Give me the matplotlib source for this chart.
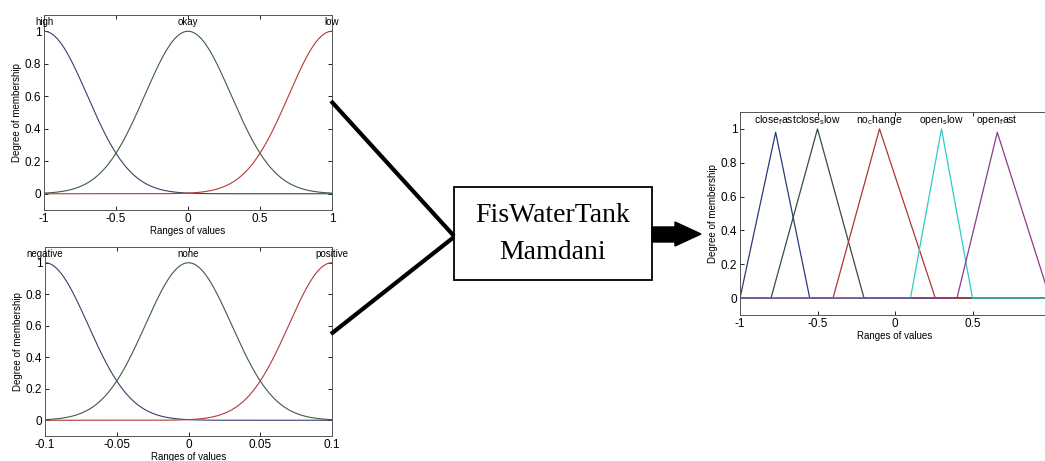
import numpy as np
import matplotlib
matplotlib.use("Agg")
import matplotlib.pyplot as plt
from matplotlib.patches import Rectangle, Polygon

plt.rcParams['font.family'] = ['Liberation Sans', 'DejaVu Sans']

# Входы: гауссовы функции принадлежности (центр, сигма)
level_names = ['high', 'okay', 'low']
level_centers = [-1.0, 0.0, 1.0]
level_sigma = 0.30
level_range = (-1.0, 1.0)
level_ticks = [-1, -0.5, 0, 0.5, 1]
level_ticklabels = ['-1', '-0.5', '0', '0.5', '1']

rate_names = ['negative', 'none', 'positive']
rate_centers = [-0.1, 0.0, 0.1]
rate_sigma = 0.03
rate_range = (-0.1, 0.1)
rate_ticks = [-0.1, -0.05, 0, 0.05, 0.1]
rate_ticklabels = ['-0.1', '-0.05', '0', '0.05', '0.1']

gauss_colors = ['#39406a', '#3d5c42', '#b23a3a']

# Выход: треугольные функции (a, b, c, высота)
valve_names = [r'close$_{\rm f}$ast', r'close$_{\rm s}$low', r'no$_{\rm c}$hange',
               r'open$_{\rm s}$low', r'open$_{\rm f}$ast']
valve_a = [-1.0, -0.80, -0.40, 0.10, 0.40]
valve_b = [-0.77, -0.50, -0.10, 0.30, 0.66]
valve_c = [-0.55, -0.20, 0.26, 0.50, 1.00]
valve_peak = [0.98, 1.0, 1.0, 1.0, 0.98]
valve_colors = ['#2b3a7a', '#34503a', '#b03434', '#2fc9c9', '#8a3b8e']
valve_ticks = [-1, -0.5, 0, 0.5]
valve_ticklabels = ['-1', '-0.5', '0', '0.5']

yticks = [0, 0.2, 0.4, 0.6, 0.8, 1]
yticklabels = ['0', '0.2', '0.4', '0.6', '0.8', '1']

W, H = 1045, 461
fig = plt.figure(figsize=(W / 100, H / 100), dpi=100)


def style_axes(ax, xr, xt, xtl):
    ax.set_xlim(*xr)
    ax.set_ylim(-0.1, 1.1)
    ax.set_xticks(xt)
    ax.set_xticklabels(xtl)
    ax.set_yticks(yticks)
    ax.set_yticklabels(yticklabels)
    ax.tick_params(direction='in', top=True, right=True, length=3, width=0.6,
                   labelsize=8.5, pad=2)
    for s in ax.spines.values():
        s.set_color('#555555')
        s.set_linewidth(0.7)
    ax.set_xlabel('Ranges of values', fontsize=7, labelpad=1)
    ax.set_ylabel('Degree of membership', fontsize=7, labelpad=2)


def gauss_panel(rect, names, centers, sigma, xr, xt, xtl):
    ax = fig.add_axes(rect)
    x = np.linspace(xr[0], xr[1], 400)
    for name, c, col in zip(names, centers, gauss_colors):
        y = np.exp(-(x - c) ** 2 / (2 * sigma ** 2))
        ax.plot(x, y, color=col, lw=0.8)
        ax.text(c, 1.055, name, ha='center', va='center', fontsize=7, clip_on=False)
    style_axes(ax, xr, xt, xtl)
    return ax


gauss_panel([44 / W, 1 - 210 / H, 288 / W, 195 / H], level_names, level_centers,
            level_sigma, level_range, level_ticks, level_ticklabels)
gauss_panel([45 / W, 1 - 436 / H, 287 / W, 189 / H], rate_names, rate_centers,
            rate_sigma, rate_range, rate_ticks, rate_ticklabels)

# Выходная переменная
axr = fig.add_axes([740 / W, 1 - 315 / H, 310 / W, 203 / H])
for name, a, b, c, p, col in zip(valve_names, valve_a, valve_b, valve_c, valve_peak, valve_colors):
    axr.plot([-1, a, b, c, 1], [0, 0, p, 0, 0], color=col, lw=0.9)
    axr.text(b, 1.055, name, ha='center', va='center', fontsize=7.5, clip_on=False)
style_axes(axr, (-1, 1), valve_ticks, valve_ticklabels)

# Схема: линии, блок и стрелка
ov = fig.add_axes([0, 0, 1, 1], facecolor='none')
ov.set_xlim(0, W)
ov.set_ylim(H, 0)
ov.axis('off')
ov.plot([331, 454], [101, 236], color='black', lw=3, solid_capstyle='butt')
ov.plot([331, 454], [334, 237], color='black', lw=3, solid_capstyle='butt')
ov.add_patch(Rectangle((454, 187), 198, 93, fill=False, ec='black', lw=1.3))
ov.text(553, 215, 'FisWaterTank', ha='center', va='center', fontsize=20,
        family='Liberation Serif')
ov.text(553, 252, 'Mamdani', ha='center', va='center', fontsize=20,
        family='Liberation Serif')
ov.add_patch(Polygon([(652, 227), (675, 227), (675, 222), (701, 234),
                      (675, 246), (675, 242), (652, 242)], closed=True,
                     fc='black', ec='black'))

plt.savefig('out.png', dpi=100)
